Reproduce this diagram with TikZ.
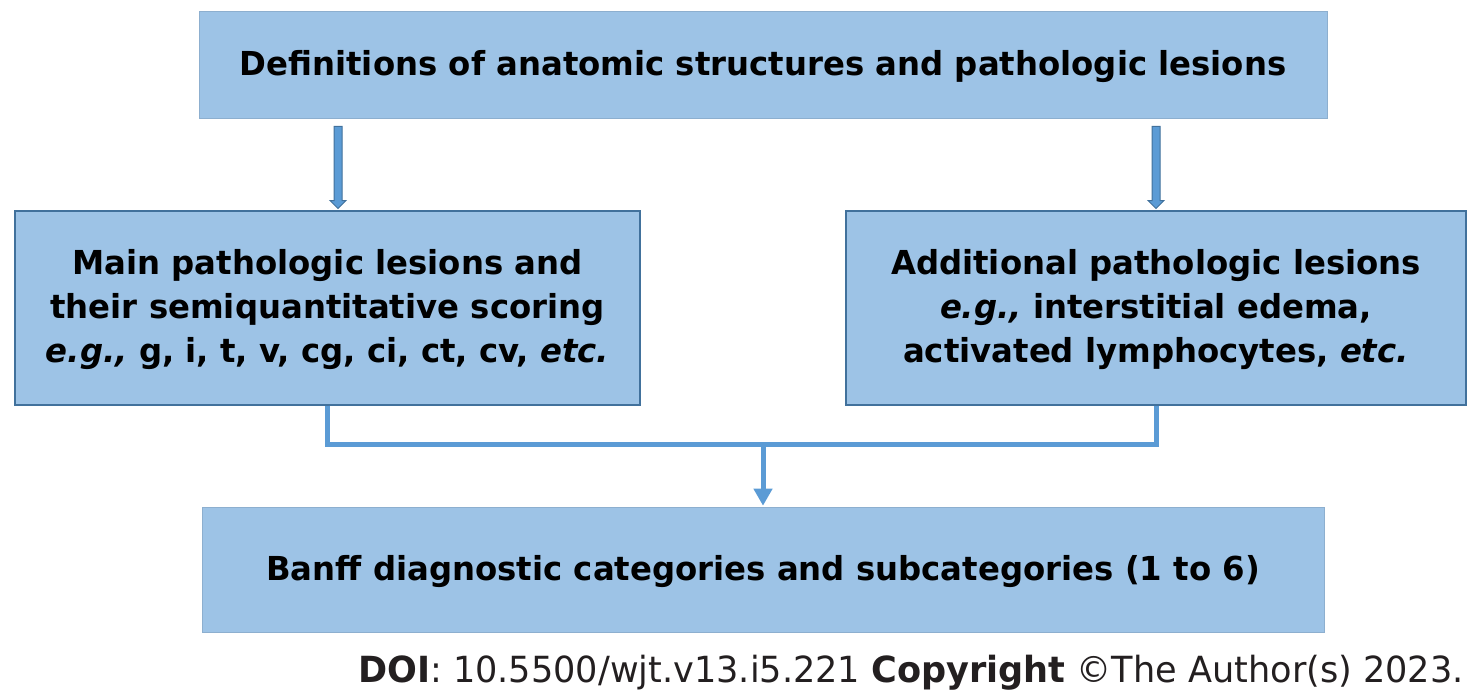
\documentclass[tikz,border=0pt]{standalone}
\usepackage{fontspec}
\setmainfont{DejaVu Sans}[FakeStretch=0.98]
\newfontfamily\doifont{DejaVu Sans}[FakeStretch=0.975]
\usetikzlibrary{calc,arrows.meta}
\definecolor{boxfill}{HTML}{9DC3E6}
\definecolor{boxline}{HTML}{41719C}
\definecolor{arrowfill}{HTML}{5B9BD5}
\definecolor{doitext}{HTML}{231F20}
\tikzset{
  plainbox/.style={fill=boxfill, draw=boxfill!90!black, line width=0.6pt, inner sep=0pt, align=center,
    font=\fontsize{33}{44}\selectfont\bfseries, text depth=3pt},
  framedbox/.style={plainbox, draw=boxline, line width=2pt},
  blockarrow/.style={fill=arrowfill, draw=boxline, line width=1pt, line join=miter},
  conn/.style={draw=arrowfill, line width=5pt},
}
\begin{document}
\begin{tikzpicture}[x=1pt,y=-1pt]
\useasboundingbox (0,0) rectangle (1480,699);
\node[plainbox, minimum width=1128pt, minimum height=107pt] (top) at (763,64.5)
  {Definitions of anatomic structures and pathologic lesions};
\node[framedbox, minimum width=625pt, minimum height=194pt] (left) at (327.5,307.5)
  {Main pathologic lesions and\\ their semiquantitative scoring\\ \textit{e.g.,} g, i, t, v, cg, ci, ct, cv, \textit{etc.}};
\node[framedbox, minimum width=620pt, minimum height=194pt] (right) at (1156,307.5)
  {Additional pathologic lesions\\ \textit{e.g.,} interstitial edema,\\ activated lymphocytes, \textit{etc.}};
\node[plainbox, minimum width=1122pt, minimum height=125pt] (bottom) at (763,569.5)
  {Banff diagnostic categories and subcategories (1 to 6)};
\node[anchor=base east, inner sep=0pt, text=doitext, font=\doifont\fontsize{36}{40}\selectfont] (doi) at (1464,682)
  {\textbf{DOI}: 10.5500/wjt.v13.i5.221 \textbf{Copyright} ©The Author(s) 2023.};
% x positions of the block arrows
\coordinate (ax1) at (338,0);
\coordinate (jn) at (763,444);
\coordinate (a1s) at (top.south -| ax1);
\coordinate (a1t) at (left.north -| ax1);
\coordinate (a2s) at (top.south -| right.north);
\coordinate (a2t) at (right.north);
\foreach \s/\t in {a1s/a1t, a2s/a2t}{
  \draw[blockarrow] ($(\s)+(-4,8)$) -- ($(\t)+(-4,-9)$) -- ($(\t)+(-8,-9)$) -- ($(\t)+(0,-1)$)
    -- ($(\t)+(8,-9)$) -- ($(\t)+(4,-9)$) -- ($(\s)+(4,8)$) -- cycle;
}
\draw[conn] (left.south) |- (jn) -| (right.south);
\draw[conn, -{Triangle[width=18pt,length=17pt]}] (jn) -- ($(bottom.north)+(0,-1)$);
\end{tikzpicture}
\end{document}
